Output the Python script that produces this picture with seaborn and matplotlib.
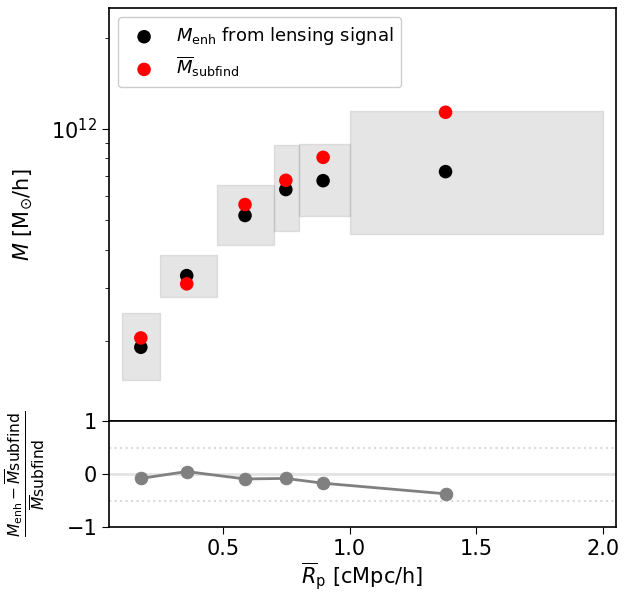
import numpy as np
import pandas as pd
import matplotlib
matplotlib.use("Agg")
import matplotlib.pyplot as plt
import seaborn as sns

# ---- data ----
r_mean = [0.176, 0.357, 0.587, 0.748, 0.895, 1.378]
bin_lo = [0.10, 0.25, 0.475, 0.70, 0.80, 1.00]
bin_hi = [0.25, 0.475, 0.70, 0.80, 1.00, 2.00]
m_enh = [1.91e11, 3.29e11, 5.19e11, 6.32e11, 6.76e11, 7.24e11]
m_enh_lo = [1.49e11, 2.79e11, 4.14e11, 4.62e11, 5.16e11, 4.52e11]
m_enh_hi = [2.47e11, 3.84e11, 6.56e11, 8.84e11, 8.96e11, 1.145e12]
m_subfind = [2.05e11, 3.09e11, 5.64e11, 6.78e11, 8.07e11, 1.136e12]
frac_diff = [-0.08, 0.05, -0.09, -0.08, -0.17, -0.37]

df = pd.DataFrame({"r": r_mean, "m_enh": m_enh, "m_sub": m_subfind, "frac": frac_diff})

sns.set_style("ticks")
plt.rcParams["font.family"] = ["DejaVu Sans"]
plt.rcParams["mathtext.fontset"] = "dejavusans"
for k in ["text.color", "axes.labelcolor", "xtick.color", "ytick.color", "axes.edgecolor"]:
    plt.rcParams[k] = "black"

fig = plt.figure(figsize=(6.33, 5.93), dpi=100)
gs = fig.add_gridspec(2, 1, height_ratios=[413, 106], hspace=0,
                      left=0.172, right=0.973, top=0.986, bottom=0.111)
ax = fig.add_subplot(gs[0])
ax2 = fig.add_subplot(gs[1], sharex=ax)

# grey boxes: bin extent x error range
for lo, hi, ylo, yhi in zip(bin_lo, bin_hi, m_enh_lo, m_enh_hi):
    ax.fill_between([lo, hi], [ylo, ylo], [yhi, yhi], color="grey", alpha=0.2, lw=1.0)

sns.scatterplot(data=df, x="r", y="m_enh", color="black", s=95, edgecolor="none",
                label=r"$M_{\rm enh}$ from lensing signal", ax=ax, zorder=3)
sns.scatterplot(data=df, x="r", y="m_sub", color="red", s=95, edgecolor="none",
                label=r"$\overline{M}_{\rm subfind}$", ax=ax, zorder=3)

ax.set_yscale("log")
ax.set_ylim(1.09e11, 2.5e12)
ax.set_xlim(0.05, 2.05)
ax.set_xlabel("")
ax.set_ylabel(r"$M$ [M$_{\odot}$/h]", fontsize=15)
ax.tick_params(axis="x", bottom=False, labelbottom=False)
ax.tick_params(axis="y", which="major", labelsize=15, length=5)
ax.tick_params(axis="y", which="minor", length=3)
leg = ax.legend(loc="upper left", fontsize=13, markerscale=1.0, framealpha=1,
                edgecolor="#cccccc", handletextpad=0.75, borderpad=0.45,
                labelspacing=0.4)
for s in ax.spines.values():
    s.set_color("black")
    s.set_linewidth(1.2)

# bottom panel
ax2.axhline(0, color="#e3e3e3", lw=2, zorder=1)
ax2.axhline(0.5, color="#d9d9d9", lw=1.5, ls=":", zorder=1)
ax2.axhline(-0.5, color="#d9d9d9", lw=1.5, ls=":", zorder=1)
sns.lineplot(data=df, x="r", y="frac", color="grey", marker="o", markersize=9,
             markeredgecolor="grey", lw=2, ax=ax2, zorder=3)
ax2.set_ylim(-1, 1)
ax2.set_yticks([-1, 0, 1])
ax2.set_xticks([0.5, 1.0, 1.5, 2.0])
ax2.tick_params(labelsize=15, length=5)
ax2.set_xlabel(r"$\overline{R}_{\rm p}$ [cMpc/h]", fontsize=15, labelpad=0.5)
ax2.set_ylabel(r"$\frac{M_{\rm enh}-\overline{M}{\rm subfind}}{\overline{M}{\rm subfind}}$",
               fontsize=16)
for s in ax2.spines.values():
    s.set_color("black")
    s.set_linewidth(1.2)

ax.yaxis.set_label_coords(-0.146, 0.5)
ax2.yaxis.set_label_coords(-0.122, 0.5)

fig.savefig("out.png", dpi=100)
